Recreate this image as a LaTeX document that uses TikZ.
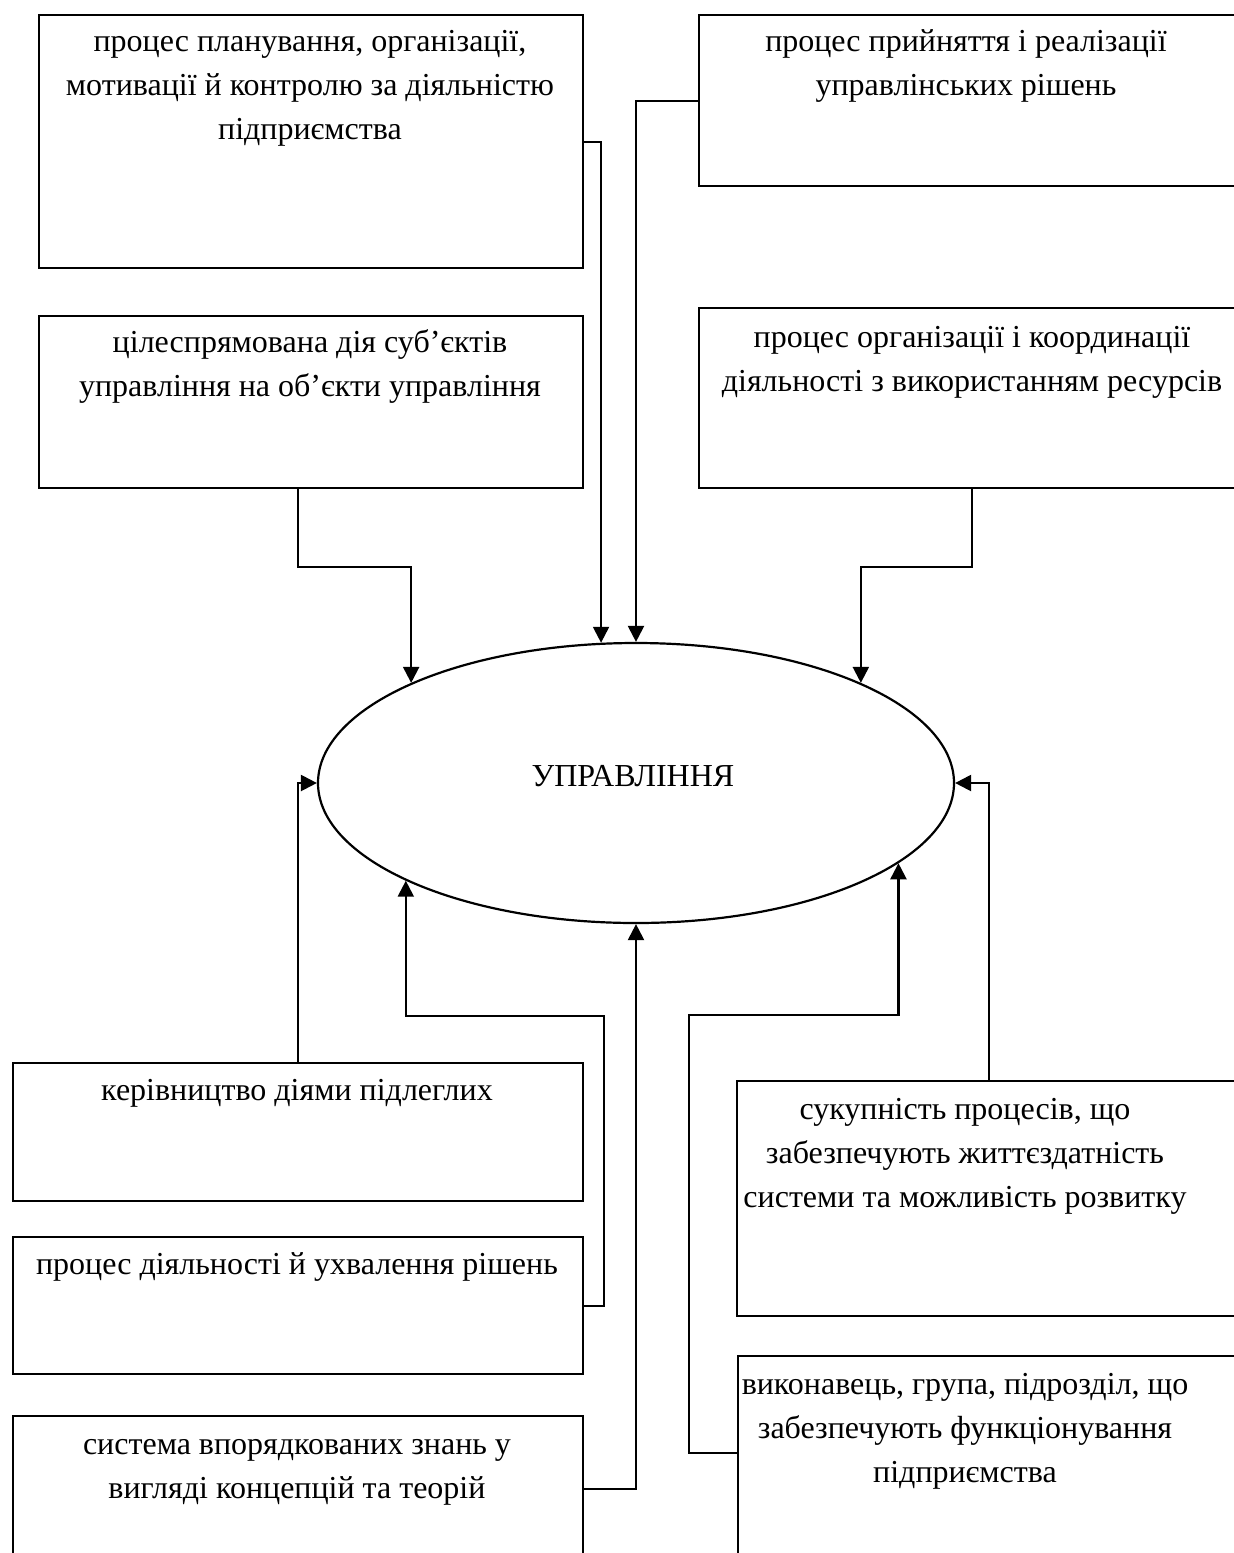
\documentclass[tikz,border=0pt]{standalone}
\usepackage{fontspec}
\setmainfont{Liberation Serif}
\usetikzlibrary{arrows.meta,shapes.geometric}

\tikzset{
  box/.style={draw, line width=2.2pt, rectangle, inner sep=0pt, anchor=north west},
  oval/.style={draw, line width=2.2pt, ellipse, inner sep=0pt,
    minimum width=636pt, minimum height=280pt},
  txt/.style={anchor=north, align=center, inner sep=0pt,
    font=\fontsize{32}{44}\selectfont},
  link/.style={line width=2.2pt, -{Triangle[length=16pt,width=16pt]}},
}

\begin{document}
\begin{tikzpicture}[x=1pt, y={(0pt,-1pt)}]
\useasboundingbox (0,0) rectangle (1234,1553);
\clip (0,0) rectangle (1234,1553);

% central ellipse
\node[oval] (e) at (636,783) {};
\node[anchor=base, inner sep=0pt, font=\fontsize{32}{44}\selectfont] (et) at (633,786) {УПРАВЛІННЯ};

% boxes above the ellipse
\node[box, minimum width=544pt, minimum height=253pt] (b1) at (38,14) {};
\node[box, minimum width=546pt, minimum height=171pt] (b2) at (698,14) {};
\node[box, minimum width=544pt, minimum height=172pt] (b3) at (38,315) {};
\node[box, minimum width=546pt, minimum height=180pt] (b4) at (698,307) {};

% boxes below the ellipse
\node[box, minimum width=570pt, minimum height=138pt] (b6) at (12,1062) {};
\node[box, minimum width=570pt, minimum height=137pt] (b7) at (12,1236) {};
\node[box, minimum width=570pt, minimum height=148pt] (b8) at (12,1415) {};
\node[box, minimum width=504pt, minimum height=235pt] (b9) at (736,1080) {};
\node[box, minimum width=520pt, minimum height=240pt] (b10) at (737,1355) {};

% box texts
\node[txt] (t1) at (310,20) {\strut процес планування, організації,\\мотивації й контролю за діяльністю\\підприємства};
\node[txt] (t2) at (966,20) {\strut процес прийняття і реалізації\\управлінських рішень};
\node[txt] (t3) at (310,321) {\strut цілеспрямована дія суб’єктів\\управління на об’єкти управління};
\node[txt] (t4) at (972,316) {\strut процес організації і координації\\діяльності з використанням ресурсів};
\node[txt] (t6) at (297,1069) {\strut керівництво діями підлеглих};
\node[txt] (t7) at (297,1243) {\strut процес діяльності й ухвалення рішень};
\node[txt] (t8) at (297,1423) {\strut система впорядкованих знань у\\вигляді концепцій та теорій};
\node[txt] (t9) at (965,1088) {\strut сукупність процесів, що\\забезпечують життєздатність\\системи та можливість розвитку};
\node[txt] (t10) at (965,1363) {\strut виконавець, група, підрозділ, що\\забезпечують функціонування\\підприємства};

% connectors into the ellipse
\draw[link] (b1.east) -| (e.104.5);
\draw[link] (b2.west) -| (e.north);
\draw[link] ([xshift=-13pt]b3.south) -- ++(0,78) -| (e.156.1);
\draw[link] (b4.south) -- ++(0,78) -| (e.24.3);
\draw[link] (b6.north) |- (e.west);
\draw[link] (b7.east) -- ++(20,0) -- ++(0,-290) -| (e.203.9);
\draw[link] ([yshift=-74pt]b8.north east) -| (e.south);
\draw[link] (b9.north) |- (e.east);
\draw[link] ([yshift=-98pt]b10.north west) -- ++(-48,0) -- ++(0,-438) -| (e.343.5);
\end{tikzpicture}
\end{document}
